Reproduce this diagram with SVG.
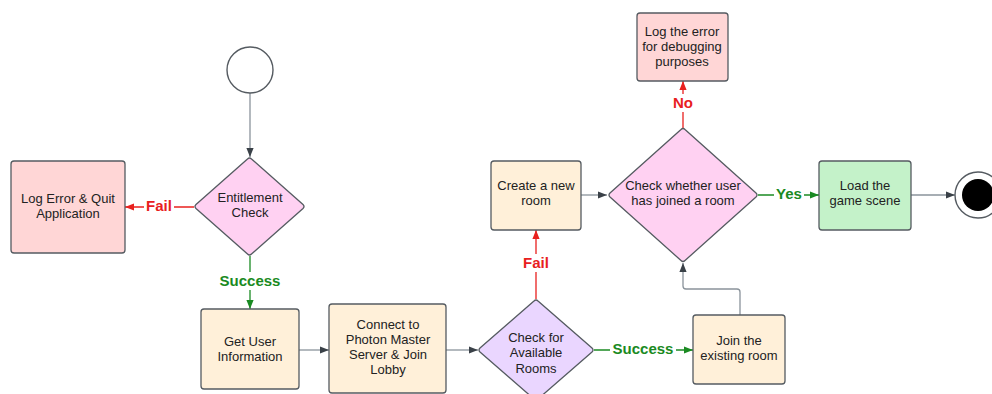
<svg xmlns="http://www.w3.org/2000/svg" width="992" height="394" viewBox="0 0 992 394">
  <style>
    .node { stroke: #555b61; stroke-width: 1.3; }
    .txt { font-family: "Liberation Sans", Arial, sans-serif; font-size: 13px; fill: #222; text-anchor: middle; }
    .lbl { font-family: "Liberation Sans", Arial, sans-serif; font-size: 15px; font-weight: bold; text-anchor: middle; }
    .gray { stroke: #8a939b; stroke-width: 1.3; fill: none; }
    .red { stroke: #e8201e; stroke-width: 1.3; fill: none; }
    .green { stroke: #1a8a22; stroke-width: 1.3; fill: none; }
    .pink { fill: #ffd1f2; }
    .lav { fill: #ead6ff; }
    .peach { fill: #fff0d9; }
    .rose { fill: #ffd6d6; }
    .mint { fill: #c4f2c9; }
  </style>
  <defs>
    <marker id="ah-gray" viewBox="0 0 10 10" refX="10" refY="5" markerWidth="9" markerHeight="9" markerUnits="userSpaceOnUse" orient="auto">
      <path d="M0,1 L10,5 L0,9 Z" fill="#3a4148"/>
    </marker>
    <marker id="ah-red" viewBox="0 0 10 10" refX="10" refY="5" markerWidth="9" markerHeight="9" markerUnits="userSpaceOnUse" orient="auto">
      <path d="M0,1 L10,5 L0,9 Z" fill="#e8201e"/>
    </marker>
    <marker id="ah-green" viewBox="0 0 10 10" refX="10" refY="5" markerWidth="9" markerHeight="9" markerUnits="userSpaceOnUse" orient="auto">
      <path d="M0,1 L10,5 L0,9 Z" fill="#1a8a22"/>
    </marker>
  </defs>

  <rect width="992" height="394" fill="#ffffff"/>

  <!-- connectors -->
  <g id="connectors">
    <path class="gray" d="M250,93 V157" marker-end="url(#ah-gray)"/>
    <path class="red" d="M194,207 H125" marker-end="url(#ah-red)"/>
    <path class="green" d="M250,256 V309" marker-end="url(#ah-green)"/>
    <path class="gray" d="M299,350 H329" marker-end="url(#ah-gray)"/>
    <path class="gray" d="M446,350 H478" marker-end="url(#ah-gray)"/>
    <path class="red" d="M536,299 V230" marker-end="url(#ah-red)"/>
    <path class="gray" d="M581,195 H607" marker-end="url(#ah-gray)"/>
    <path class="red" d="M683,128 V81" marker-end="url(#ah-red)"/>
    <path class="green" d="M594,350 H693" marker-end="url(#ah-green)"/>
    <path class="gray" d="M740,315 V292 Q740,289 737,289 H686 Q683,289 683,286 V263" marker-end="url(#ah-gray)"/>
    <path class="green" d="M758,195 H819" marker-end="url(#ah-green)"/>
    <path class="gray" d="M911,195 H955" marker-end="url(#ah-gray)"/>

    <!-- connector labels -->
    <rect x="144" y="197" width="30" height="18" fill="#fff"/>
    <text class="lbl" x="159" y="211" fill="#e8201e">Fail</text>
    <rect x="217" y="272" width="66" height="18" fill="#fff"/>
    <text class="lbl" x="250" y="286" fill="#1a8a22">Success</text>
    <rect x="521" y="254" width="30" height="18" fill="#fff"/>
    <text class="lbl" x="536" y="268" fill="#e8201e">Fail</text>
    <rect x="670" y="94" width="26" height="18" fill="#fff"/>
    <text class="lbl" x="683" y="108" fill="#e8201e">No</text>
    <rect x="610" y="340" width="66" height="18" fill="#fff"/>
    <text class="lbl" x="643" y="354" fill="#1a8a22">Success</text>
    <rect x="774" y="185" width="30" height="18" fill="#fff"/>
    <text class="lbl" x="789" y="199" fill="#1a8a22">Yes</text>
  </g>

  <!-- start -->
  <g id="start">
    <circle cx="250" cy="70" r="23" fill="#fff" stroke="#555b61" stroke-width="1.4"/>
  </g>

  <g id="entitlement-check">
    <path class="node pink" d="M247.5,159 Q249.5,157 251.5,159 L303,204.5 Q305,206.5 303,208.5 L251.5,254 Q249.5,256 247.5,254 L196,208.5 Q194,206.5 196,204.5 Z"/>
    <text class="txt" x="250" y="202">Entitlement</text>
    <text class="txt" x="250" y="217">Check</text>
  </g>

  <g id="log-error-quit">
    <rect class="node rose" x="11" y="161" width="114" height="92" rx="3"/>
    <text class="txt" x="68" y="203">Log Error &amp; Quit</text>
    <text class="txt" x="68" y="218">Application</text>
  </g>

  <g id="get-user-info">
    <rect class="node peach" x="201" y="309" width="98" height="80" rx="3"/>
    <text class="txt" x="250" y="346">Get User</text>
    <text class="txt" x="250" y="361">Information</text>
  </g>

  <g id="connect-photon">
    <rect class="node peach" x="329" y="304" width="117" height="89" rx="3"/>
    <text class="txt" x="388" y="329">Connect to</text>
    <text class="txt" x="388" y="344">Photon Master</text>
    <text class="txt" x="388" y="359">Server &amp; Join</text>
    <text class="txt" x="388" y="374">Lobby</text>
  </g>

  <g id="check-rooms">
    <path class="node lav" d="M534,301 Q536,299 538,301 L592,348 Q594,350 592,352 L538,399 Q536,401 534,399 L480,352 Q478,350 480,348 Z"/>
    <text class="txt" x="536" y="342">Check for</text>
    <text class="txt" x="536" y="357">Available</text>
    <text class="txt" x="536" y="373">Rooms</text>
  </g>

  <g id="create-room">
    <rect class="node peach" x="491" y="161" width="90" height="69" rx="3"/>
    <text class="txt" x="536" y="190">Create a new</text>
    <text class="txt" x="536" y="205">room</text>
  </g>

  <g id="check-joined">
    <path class="node pink" d="M681,129.5 Q683,127.5 685,129.5 L756,193 Q758,195 756,197 L685,260.5 Q683,262.5 681,260.5 L610,197 Q608,195 610,193 Z"/>
    <text class="txt" x="683" y="190">Check whether user</text>
    <text class="txt" x="683" y="205">has joined a room</text>
  </g>

  <g id="log-debug">
    <rect class="node rose" x="637" y="13" width="91" height="68" rx="3"/>
    <text class="txt" x="682" y="36">Log the error</text>
    <text class="txt" x="682" y="51">for debugging</text>
    <text class="txt" x="682" y="66">purposes</text>
  </g>

  <g id="join-room">
    <rect class="node peach" x="693" y="315" width="92" height="69" rx="3"/>
    <text class="txt" x="739" y="345">Join the</text>
    <text class="txt" x="739" y="360">existing room</text>
  </g>

  <g id="load-scene">
    <rect class="node mint" x="819" y="161" width="92" height="69" rx="3"/>
    <text class="txt" x="865" y="190">Load the</text>
    <text class="txt" x="865" y="205">game scene</text>
  </g>

  <!-- end -->
  <g id="end">
    <circle cx="978" cy="195" r="23" fill="#fff" stroke="#555b61" stroke-width="1.4"/>
    <circle cx="978" cy="195" r="16" fill="#000"/>
  </g>
</svg>
